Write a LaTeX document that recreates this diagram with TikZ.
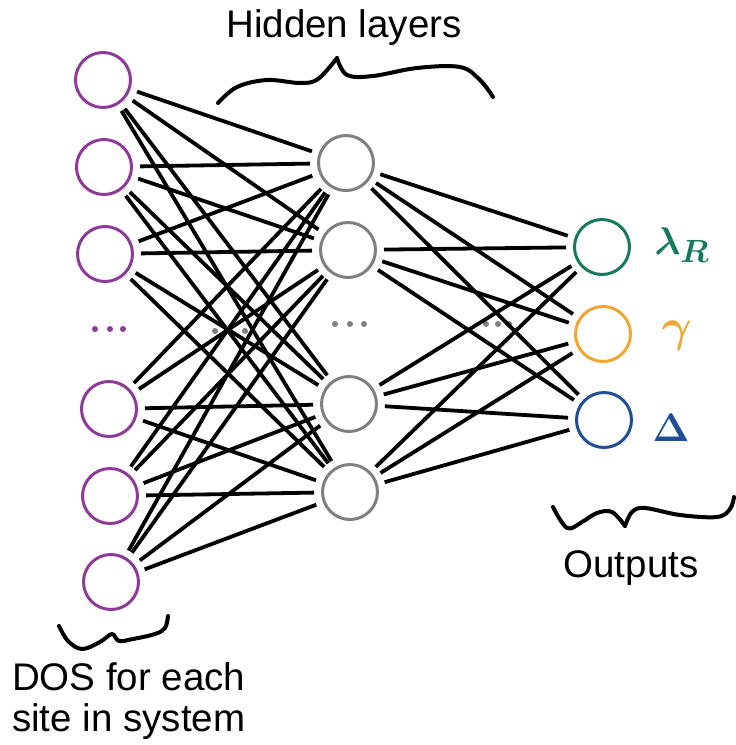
\documentclass[tikz,border=0pt]{standalone}
\usepackage{fontspec}
\setmainfont{Liberation Sans}
\definecolor{npurple}{HTML}{8E3A9A}
\definecolor{ngray}{HTML}{7F7F7F}
\definecolor{ngreen}{HTML}{167A5C}
\definecolor{norange}{HTML}{F2A531}
\definecolor{nblue}{HTML}{1E4F96}
\tikzset{
  neuron/.style={circle, draw, line width=3pt, minimum size=55pt, inner sep=0pt},
  inp/.style={neuron, draw=npurple},
  hid/.style={neuron, draw=ngray},
  edge/.style={line width=3.8pt, black, shorten <=7pt, shorten >=7pt},
  brace/.style={line width=4pt, line cap=round, line join=round},
  lbl/.style={font=\fontsize{38.5}{46}\selectfont, inner sep=0pt},
  outlbl/.style={font=\Huge\boldmath, inner sep=0pt},
  dotmark/.style={fill=ngray},
}
\begin{document}
\begin{tikzpicture}[x=1pt,y=-1pt]
\useasboundingbox (0,0) rectangle (736,745);
% dots
\foreach \x in {95,110,123} \fill[npurple] (\x,329) circle (3);
\foreach \x in {335,350,364} \fill[dotmark] (\x,324) circle (3);
\foreach \x in {215,230,245} \fill[dotmark] (\x,331) circle (3);
\foreach \x in {486,498,509} \fill[dotmark] (\x,324) circle (3);
% input layer
\node[inp] (i1) at (103,80) {};
\node[inp] (i2) at (104,167) {};
\node[inp] (i3) at (105,254) {};
\node[inp] (i4) at (109,409) {};
\node[inp] (i5) at (110,496) {};
\node[inp] (i6) at (111,582) {};
% hidden layer
\node[hid] (h1) at (346,163) {};
\node[hid] (h2) at (348,250) {};
\node[hid] (h3) at (349,404) {};
\node[hid] (h4) at (350,492) {};
% outputs
\node[neuron, draw=ngreen] (o1) at (602,247) {};
\node[neuron, draw=norange] (o2) at (603,334) {};
\node[neuron, draw=nblue] (o3) at (604,420) {};
% edges
\foreach \i in {1,...,6} \foreach \h in {1,...,4} \draw[edge] (i\i) -- (h\h);
\foreach \h in {1,...,4} \foreach \o in {1,2,3} \draw[edge] (h\h) -- (o\o);
% output labels
\node[outlbl, text=ngreen] (lam) at (682,245) {\scalebox{1.55}{$\lambda_R$}};
\node[outlbl, text=norange] (gam) at (677,336) {\scalebox{1.85}{$\gamma$}};
\node[outlbl, text=nblue] (del) at (671,428) {\scalebox{1.6}{$\Delta$}};
% texts
\node[lbl, anchor=base] (hl) at (344,37) {Hidden layers};
\node[lbl, anchor=base] (outs) at (631,577) {Outputs};
\node[lbl, anchor=base west] (dos1) at (12,690) {DOS for each};
\node[lbl, anchor=base west] (dos2) at (12,731) {site in system};
% braces
\draw[brace] plot[smooth, tension=0.6] coordinates {(218,103) (237,87) (267,80) (300,83) (318,79) (337,58)};
\draw[brace] plot[smooth, tension=0.6] coordinates {(337,58) (347,75) (373,76) (417,68) (460,67) (480,80) (493,97)};
\draw[brace] plot[smooth, tension=0.6] coordinates {(59,626) (68,641) (82,649) (100,642) (112,634) (119,641) (133,639) (155,634) (165,628) (168,616)};
\draw[brace] plot[smooth, tension=0.6] coordinates {(553,507) (567,528) (582,522) (597,513) (612,512) (625,526)};
\draw[brace] plot[smooth, tension=0.6] coordinates {(625,526) (632,512) (645,508) (680,515) (717,517) (730,509) (734,497)};
\end{tikzpicture}
\end{document}
